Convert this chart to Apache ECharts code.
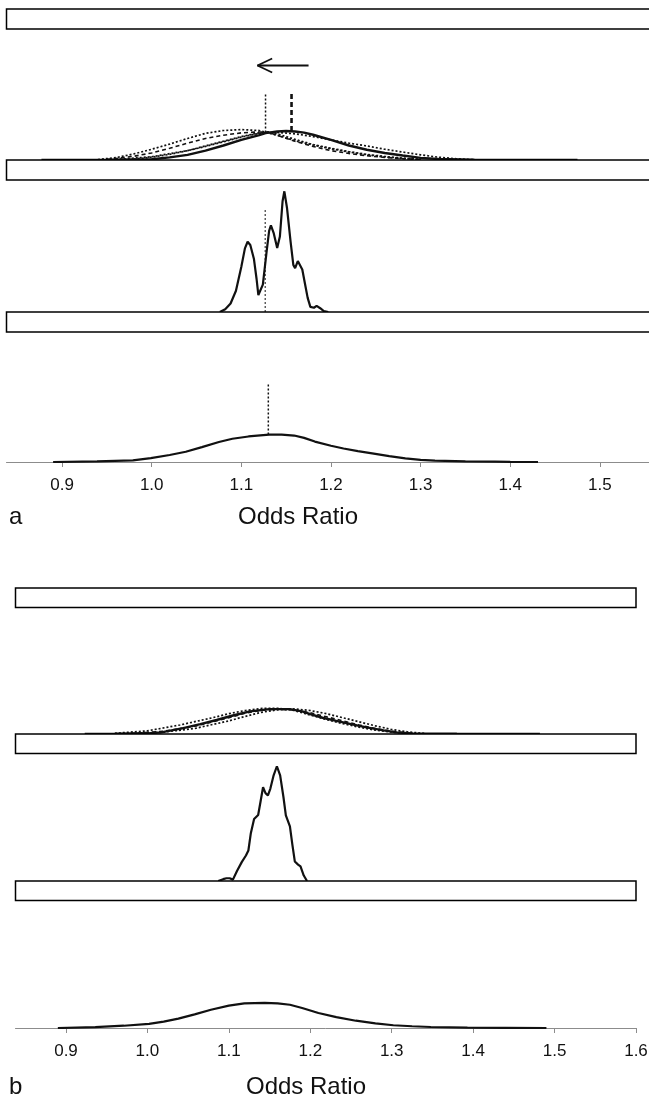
<!DOCTYPE html>
<html>
<head>
<meta charset="utf-8">
<script src="https://cdn.jsdelivr.net/npm/echarts@6/dist/echarts.min.js"></script>
<style>
  html, body { margin: 0; padding: 0; background: #fff; }
  #chart { width: 649px; height: 1107px; }
</style>
</head>
<body>
<div id="chart"></div>
<script>
var tickValues = [0.9, 1.0, 1.1, 1.2, 1.3, 1.4, 1.5, 1.6];
var tickLabels = ['0.9', '1.0', '1.1', '1.2', '1.3', '1.4', '1.5', '1.6'];
var xName = 'Odds Ratio';

// panel a, top: solid curve + four dotted/dashed curves
var a1Solid = [[0.877,0],[0.90,0.03],[0.95,0.06],[1.00,0.15],[1.02,0.55],[1.04,1.1],[1.06,2.0],[1.08,3.1],[1.10,4.3],[1.12,5.3],[1.127,5.75],[1.14,6.1],[1.15,6.2],[1.16,6.1],[1.17,5.85],[1.18,5.4],[1.20,4.3],[1.22,3.1],[1.24,2.2],[1.26,1.5],[1.28,0.95],[1.30,0.45],[1.32,0.2],[1.36,0.08],[1.42,0.03],[1.475,0]];
var a1Dot1 = [[0.94,0.1],[0.96,0.5],[0.98,1.3],[1.00,2.3],[1.02,3.4],[1.04,4.6],[1.06,5.7],[1.08,6.3],[1.10,6.5],[1.12,6.3],[1.14,5.3],[1.16,4.1],[1.18,3.2],[1.20,2.4],[1.22,1.7],[1.24,1.1],[1.26,0.65],[1.28,0.3],[1.30,0.1]];
var a1Dot2 = [[0.96,0.1],[1.00,0.7],[1.04,2.0],[1.06,3.0],[1.08,4.0],[1.10,5.0],[1.12,5.8],[1.14,5.9],[1.16,5.6],[1.18,5.0],[1.20,4.3],[1.22,3.6],[1.24,3.0],[1.26,2.3],[1.28,1.7],[1.30,1.1],[1.32,0.6],[1.34,0.25],[1.36,0.05]];
var a1Dash = [[0.95,0.1],[0.98,0.8],[1.00,1.5],[1.02,2.5],[1.04,3.6],[1.06,4.6],[1.08,5.3],[1.10,5.8],[1.12,6.0],[1.13,5.9],[1.14,5.3],[1.16,4.0],[1.18,2.9],[1.20,2.0],[1.22,1.4],[1.24,0.9],[1.26,0.55],[1.28,0.3],[1.30,0.1]];
var a1Dot3 = [[0.98,0.2],[1.00,0.6],[1.02,1.2],[1.04,2.0],[1.06,2.9],[1.08,3.9],[1.10,4.9],[1.12,5.7],[1.13,6.0],[1.14,5.6],[1.16,4.4],[1.18,3.3],[1.20,2.5],[1.22,1.8],[1.24,1.2],[1.26,0.75],[1.28,0.4],[1.30,0.15]];
var a1Marks = [[1.127,5.9,14.4],[1.156,6.2,14.4]];   // x, from, to
var a1Arrow = [[1.175,20.2],[1.118,20.2]];

// panel a, middle
var a2Curve = [[1.076,0],[1.082,0.6],[1.088,1.8],[1.094,4.5],[1.100,9.6],[1.104,13.5],[1.107,14.9],[1.110,14.2],[1.114,11.3],[1.117,7],[1.119,3.6],[1.121,3.9],[1.124,5.8],[1.128,12.5],[1.131,17.2],[1.133,18.4],[1.136,16.8],[1.140,13.6],[1.143,16],[1.146,23.5],[1.148,25.6],[1.151,22],[1.155,14.8],[1.158,10.0],[1.160,9.3],[1.163,10.8],[1.165,11.1],[1.168,9],[1.171,6.0],[1.174,3],[1.177,1.1],[1.181,0.9],[1.184,1.3],[1.188,0.8],[1.192,0.2],[1.197,0]];
var a2Mark = [1.1266, 0, 22];

// panel a, bottom
var a3Curve = [[0.89,0],[0.939,0.14],[0.979,0.35],[0.999,0.85],[1.02,1.5],[1.038,2.2],[1.056,3.2],[1.075,4.3],[1.09,5.0],[1.108,5.5],[1.131,5.9],[1.145,5.9],[1.159,5.7],[1.17,5.2],[1.182,4.4],[1.20,3.5],[1.214,2.9],[1.23,2.35],[1.246,1.85],[1.265,1.25],[1.283,0.78],[1.30,0.45],[1.316,0.28],[1.35,0.15],[1.383,0.1],[1.40,0.03],[1.431,0]];
var a3Mark = [1.1301, 5.9, 16.8];

// panel b
var b1Solid = [[0.923,0],[0.96,0.04],[1.00,0.15],[1.017,0.37],[1.044,1.3],[1.065,2.2],[1.085,3.1],[1.105,4.1],[1.126,5.0],[1.15,5.5],[1.175,5.5],[1.19,5.0],[1.20,4.4],[1.215,3.6],[1.232,2.9],[1.25,2.2],[1.269,1.47],[1.29,0.8],[1.306,0.37],[1.326,0.1],[1.38,0.04],[1.44,0.02],[1.482,0]];
var b1Dot1 = [[0.96,0.15],[1.00,0.7],[1.04,2.0],[1.08,3.6],[1.10,4.5],[1.12,5.2],[1.14,5.65],[1.16,5.7],[1.18,5.2],[1.20,4.2],[1.22,3.2],[1.24,2.3],[1.26,1.5],[1.28,0.85],[1.30,0.4],[1.32,0.15]];
var b1Dot2 = [[0.98,0.1],[1.02,0.4],[1.06,1.3],[1.10,2.9],[1.12,3.9],[1.14,4.8],[1.16,5.35],[1.18,5.55],[1.20,5.2],[1.22,4.5],[1.24,3.6],[1.26,2.7],[1.28,1.8],[1.30,1.0],[1.32,0.45],[1.34,0.15]];
var b1Dash = [[0.98,0.1],[1.02,0.6],[1.06,1.8],[1.10,3.6],[1.12,4.6],[1.14,5.25],[1.16,5.5],[1.18,5.3],[1.20,4.7],[1.22,3.8],[1.24,2.9],[1.26,2.0],[1.28,1.2],[1.30,0.6],[1.32,0.2]];
var b2Curve = [[1.087,0],[1.093,0.4],[1.097,0.6],[1.101,0.6],[1.105,0.3],[1.110,2.2],[1.116,4.2],[1.121,5.6],[1.124,6.7],[1.127,10.5],[1.131,13.6],[1.136,14.5],[1.139,17.5],[1.142,20.6],[1.145,19.3],[1.148,18.8],[1.151,20.3],[1.155,23.2],[1.159,25.2],[1.163,23.2],[1.167,18.5],[1.170,14.4],[1.175,12],[1.178,8],[1.181,4.3],[1.185,3.6],[1.188,3.2],[1.192,1.2],[1.196,0]];
var b3Curve = [[0.89,0],[0.936,0.2],[0.971,0.5],[1.002,0.9],[1.02,1.4],[1.038,2.05],[1.058,3.0],[1.078,4.0],[1.10,4.9],[1.119,5.4],[1.144,5.5],[1.16,5.4],[1.175,5.1],[1.19,4.4],[1.21,3.3],[1.232,2.4],[1.256,1.6],[1.28,1.0],[1.302,0.6],[1.325,0.38],[1.348,0.22],[1.393,0.08],[1.44,0.03],[1.49,0]];

// layout of the two lattice figures (panel a is cut off on the right)
var panels = [
  { left: 6.5, width: 683, stripH: 20, strips: [9, 160, 312], bottoms: [160, 312, 462], label: 'a', labelY: 517, nameX: 298 },
  { left: 15.5, width: 620.5, stripH: 19.5, strips: [588, 734, 881], bottoms: [734, 881, 1028], label: 'b', labelY: 1087, nameX: 306 }
];
var xMin = 0.838, xMax = 1.6, yMax = 28;
var ink = '#111';
var axisGrey = '#8c8c8c';
var font = "'Liberation Sans Narrow', 'Liberation Sans', Arial, sans-serif";

var grids = [], xAxes = [], yAxes = [], graphics = [];
panels.forEach(function (p) {
  for (var i = 0; i < 3; i++) {
    var top = p.strips[i] + p.stripH;
    grids.push({ left: p.left, width: p.width, top: top, height: p.bottoms[i] - top, outerBoundsMode: 'none', containLabel: false });
    var isBottom = i === 2;
    var gi = grids.length - 1;
    xAxes.push({
      gridIndex: gi, type: 'value', min: xMin, max: xMax, show: isBottom,
      axisLine: { show: true, onZero: false, lineStyle: { color: axisGrey, width: 1 } },
      axisTick: { show: true, customValues: tickValues, length: 5, lineStyle: { color: axisGrey } },
      axisLabel: {
        customValues: tickValues, margin: 15, color: ink, fontSize: 17, fontFamily: font,
        formatter: function (v) { return tickLabels[Math.round((v - 0.9) * 10)]; }
      },
      splitLine: { show: false }
    });
    yAxes.push({ gridIndex: gi, type: 'value', min: 0, max: yMax, show: false });
    graphics.push({
      type: 'rect', z: 5,
      shape: { x: p.left, y: p.strips[i], width: p.width, height: p.stripH },
      style: { fill: '#fff', stroke: '#000', lineWidth: 1.5 }
    });
  }
  graphics.push({ type: 'text', x: 9, y: p.labelY, style: { text: p.label, font: '24px ' + font, fill: ink, textVerticalAlign: 'middle' } });
  graphics.push({ type: 'text', x: p.nameX, y: p.labelY, style: { text: xName, font: '24px ' + font, fill: ink, textAlign: 'center', textVerticalAlign: 'middle' } });
});

function curve(gi, data, width, type) {
  return {
    type: 'line', xAxisIndex: gi, yAxisIndex: gi, data: data,
    showSymbol: false, symbol: 'none', silent: true, z: 3,
    lineStyle: { color: ink, width: width, type: type || 'solid' }
  };
}
function vline(gi, m, width, type) {
  return curve(gi, [[m[0], m[1]], [m[0], m[2]]], width, type);
}

var arrowHead = [[a1Arrow[1][0] + 0.0164, a1Arrow[1][1] + 1.5], a1Arrow[1], [a1Arrow[1][0] + 0.0164, a1Arrow[1][1] - 1.5]];

var series = [
  curve(0, a1Dot1, 1.7, [2, 2]),
  curve(0, a1Dot2, 1.7, [2, 2]),
  curve(0, a1Dash, 1.6, [4, 3]),
  curve(0, a1Dot3, 1.7, [2, 2]),
  curve(0, a1Solid, 2.4),
  vline(0, a1Marks[0], 1.5, [2, 2]),
  vline(0, a1Marks[1], 2.6, [5, 3]),
  curve(0, a1Arrow, 1.8),
  curve(0, arrowHead, 1.8),
  curve(1, a2Curve, 2.2),
  vline(1, a2Mark, 1, [2, 2]),
  curve(2, a3Curve, 2.2),
  vline(2, a3Mark, 1.5, [2, 2]),
  curve(3, b1Dot1, 1.7, [2, 2]),
  curve(3, b1Dot2, 1.7, [2, 2]),
  curve(3, b1Dash, 1.6, [4, 3]),
  curve(3, b1Solid, 2.4),
  curve(4, b2Curve, 2.2),
  curve(5, b3Curve, 2.2)
];

var chart = echarts.init(document.getElementById('chart'));
chart.setOption({
  animation: false,
  backgroundColor: '#fff',
  grid: grids,
  xAxis: xAxes,
  yAxis: yAxes,
  graphic: graphics,
  series: series
});
</script>
</body>
</html>
